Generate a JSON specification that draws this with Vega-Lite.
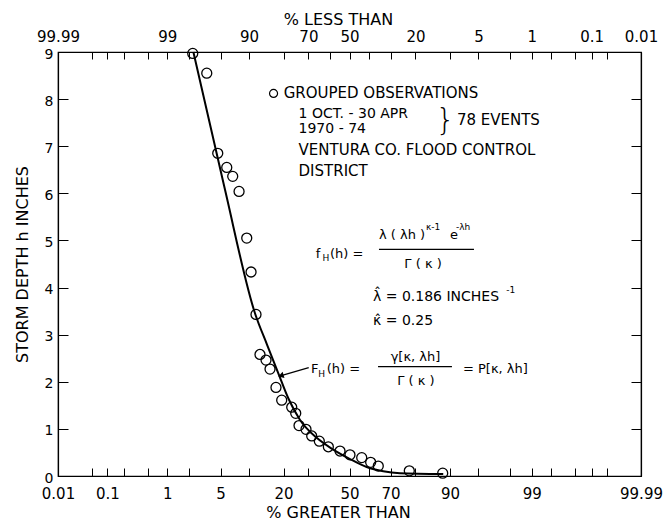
{
  "$schema": "https://vega.github.io/schema/vega-lite/v6.json",
  "autosize": "none",
  "padding": {"left": 58, "top": 52, "right": 27, "bottom": 53},
  "width": 583,
  "height": 424,
  "background": "white",
  "config": {
    "view": {"stroke": "black", "strokeWidth": 1.2},
    "font": "DejaVu Sans",
    "text": {"fill": "black", "color": "black"},
    "axis": {
      "grid": false,
      "domainColor": "black",
      "domainWidth": 1.2,
      "tickColor": "black",
      "tickWidth": 1,
      "labelColor": "black",
      "titleColor": "black",
      "labelFont": "DejaVu Sans",
      "titleFont": "DejaVu Sans",
      "titleFontWeight": "normal",
      "labelFlush": false,
      "labelOverlap": false,
      "labelBound": false
    }
  },
  "datasets": {
    "obs": [
      {"probit": -2.000, "h": 8.97}, {"probit": -1.821, "h": 8.55}, {"probit": -1.681, "h": 6.85},
      {"probit": -1.566, "h": 6.55}, {"probit": -1.490, "h": 6.36}, {"probit": -1.409, "h": 6.04},
      {"probit": -1.311, "h": 5.05}, {"probit": -1.256, "h": 4.33}, {"probit": -1.193, "h": 3.43},
      {"probit": -1.142, "h": 2.58}, {"probit": -1.065, "h": 2.46}, {"probit": -1.014, "h": 2.27},
      {"probit": -0.938, "h": 1.88}, {"probit": -0.865, "h": 1.61}, {"probit": -0.737, "h": 1.46},
      {"probit": -0.686, "h": 1.33}, {"probit": -0.644, "h": 1.07}, {"probit": -0.555, "h": 0.99},
      {"probit": -0.482, "h": 0.85}, {"probit": -0.385, "h": 0.74}, {"probit": -0.270, "h": 0.62},
      {"probit": -0.121, "h": 0.53}, {"probit": 0.006, "h": 0.45}, {"probit": 0.156, "h": 0.39},
      {"probit": 0.270, "h": 0.29}, {"probit": 0.367, "h": 0.21}, {"probit": 0.763, "h": 0.11},
      {"probit": 1.189, "h": 0.06}
    ],
    "fit": [
      {"probit": -1.992, "h": 9.0}, {"probit": -1.600, "h": 6.16}, {"probit": -1.205, "h": 3.45},
      {"probit": -1.05, "h": 2.78}, {"probit": -0.908, "h": 2.18}, {"probit": -0.781, "h": 1.65},
      {"probit": -0.631, "h": 1.19}, {"probit": -0.418, "h": 0.81}, {"probit": -0.207, "h": 0.56},
      {"probit": 0.006, "h": 0.36}, {"probit": 0.219, "h": 0.19}, {"probit": 0.431, "h": 0.10},
      {"probit": 0.644, "h": 0.06}, {"probit": 1.196, "h": 0.04}
    ],
    "legendsym": [{"probit": -0.969, "h": 8.12}],
    "notes15": [
      {"probit": -0.840, "h": 8.12, "label": "GROUPED OBSERVATIONS"},
      {"probit": 1.370, "h": 7.55, "label": "78 EVENTS"},
      {"probit": -0.650, "h": 6.92, "label": "VENTURA CO. FLOOD CONTROL"},
      {"probit": -0.650, "h": 6.48, "label": "DISTRICT"}
    ],
    "notes13": [
      {"probit": -0.650, "h": 7.69, "label": "1 OCT. - 30 APR"},
      {"probit": -0.650, "h": 7.37, "label": "1970 - 74"}
    ],
    "brace": [{"probit": 1.10, "h": 7.53, "label": "}"}],
    "formulaLeft": [
      {"probit": -0.430, "h": 4.72, "label": "f"},
      {"probit": -0.250, "h": 4.72, "label": "(h) ="},
      {"probit": 0.376, "h": 5.12, "label": "λ ( λh )"},
      {"probit": 1.282, "h": 5.12, "label": "e"},
      {"probit": -0.490, "h": 2.27, "label": "F"},
      {"probit": -0.290, "h": 2.27, "label": "(h) ="},
      {"probit": 1.448, "h": 2.27, "label": "= P[κ, λh]"}
    ],
    "params": [
      {"probit": 0.300, "h": 3.80, "label": "λ̂ = 0.186 INCHES"},
      {"probit": 0.300, "h": 3.30, "label": "κ̂ = 0.25"}
    ],
    "formulaCenter": [
      {"probit": 0.938, "h": 4.51, "label": "Γ ( κ )"},
      {"probit": 0.842, "h": 2.52, "label": "γ[κ, λh]"},
      {"probit": 0.848, "h": 2.02, "label": "Γ ( κ )"}
    ],
    "scripts": [
      {"probit": -0.345, "h": 4.62, "label": "H"},
      {"probit": 0.976, "h": 5.29, "label": "κ-1"},
      {"probit": 1.358, "h": 5.29, "label": "-λh"},
      {"probit": 2.000, "h": 3.95, "label": "-1"},
      {"probit": -0.400, "h": 2.17, "label": "H"}
    ],
    "bars": [
      {"probit": 0.376, "probit2": 1.588, "h": 4.81, "h2": 4.81},
      {"probit": 0.364, "probit2": 1.307, "h": 2.32, "h2": 2.32},
      {"probit": -0.520, "probit2": -0.860, "h": 2.30, "h2": 2.135}
    ],
    "arrowhead": [{"probit": -0.875, "h": 2.13}]
  },
  "resolve": {"axis": {"x": "independent", "y": "independent"}},
  "layer": [
    {
      "data": {"name": "obs"},
      "mark": {"type": "point", "shape": "circle", "filled": false, "color": "black", "size": 100, "strokeWidth": 1.3, "opacity": 1},
      "encoding": {
        "x": {
          "field": "probit", "type": "quantitative",
          "scale": {"domain": [-3.719, 3.719], "nice": false, "zero": false},
          "axis": {
            "orient": "bottom",
            "values": [-3.719, -3.291, -3.09, -2.878, -2.576, -2.326, -2.054, -1.645, -1.2816, -0.8416, -0.5244, -0.2533, 0, 0.2533, 0.5244, 0.8416, 1.2816, 1.645, 2.054, 2.326, 2.576, 2.878, 3.09, 3.291, 3.719],
            "labelExpr": "indexof([-3.719, -3.09, -2.326, -1.645, -0.8416, 0, 0.5244, 1.2816, 2.326, 3.719], datum.value) >= 0 ? ['0.01', '0.1', '1', '5', '20', '50', '70', '90', '99', '99.99'][indexof([-3.719, -3.09, -2.326, -1.645, -0.8416, 0, 0.5244, 1.2816, 2.326, 3.719], datum.value)] : ''",
            "tickSize": -8,
            "labelFontSize": 15,
            "labelPadding": 18,
            "title": "% GREATER THAN",
            "titleFontSize": 16,
            "titlePadding": 3,
            "titleX": 280
          }
        },
        "y": {
          "field": "h", "type": "quantitative",
          "scale": {"domain": [0, 9], "nice": false, "zero": false},
          "axis": {
            "orient": "left",
            "values": [0, 1, 2, 3, 4, 5, 6, 7, 8, 9],
            "tickSize": -10,
            "labelFontSize": 14,
            "labelPadding": 15,
            "labelOffset": 2,
            "title": "STORM DEPTH h INCHES",
            "titleFontSize": 16,
            "titlePadding": 14
          }
        }
      }
    },
    {
      "data": {"name": "fit"},
      "mark": {"type": "line", "color": "black", "strokeWidth": 2, "interpolate": "monotone"},
      "encoding": {
        "x": {
          "field": "probit", "type": "quantitative",
          "axis": {
            "orient": "top",
            "values": [-3.719, -3.291, -3.09, -2.878, -2.576, -2.326, -2.054, -1.645, -1.2816, -0.8416, -0.5244, -0.2533, 0, 0.2533, 0.5244, 0.8416, 1.2816, 1.645, 2.054, 2.326, 2.576, 2.878, 3.09, 3.291, 3.719],
            "labelExpr": "indexof([-3.719, -2.326, -1.2816, -0.5244, 0, 0.8416, 1.645, 2.326, 3.09, 3.719], datum.value) >= 0 ? ['99.99', '99', '90', '70', '50', '20', '5', '1', '0.1', '0.01'][indexof([-3.719, -2.326, -1.2816, -0.5244, 0, 0.8416, 1.645, 2.326, 3.09, 3.719], datum.value)] : ''",
            "tickSize": -7,
            "labelFontSize": 15,
            "labelPadding": 15,
            "title": "% LESS THAN",
            "titleFontSize": 16,
            "titlePadding": 2,
            "titleX": 280
          }
        },
        "y": {
          "field": "h", "type": "quantitative",
          "axis": {
            "orient": "right",
            "values": [0, 1, 2, 3, 4, 5, 6, 7, 8, 9],
            "tickSize": -10,
            "labels": false,
            "title": null
          }
        }
      }
    },
    {
      "data": {"name": "legendsym"},
      "mark": {"type": "point", "shape": "circle", "filled": false, "color": "black", "size": 64, "strokeWidth": 1.2, "opacity": 1},
      "encoding": {
        "x": {"field": "probit", "type": "quantitative", "axis": null},
        "y": {"field": "h", "type": "quantitative", "axis": null}
      }
    },
    {
      "data": {"name": "notes15"},
      "mark": {"type": "text", "align": "left", "baseline": "middle", "fontSize": 15, "fill": "black"},
      "encoding": {
        "x": {"field": "probit", "type": "quantitative", "axis": null},
        "y": {"field": "h", "type": "quantitative", "axis": null},
        "text": {"field": "label"}
      }
    },
    {
      "data": {"name": "notes13"},
      "mark": {"type": "text", "align": "left", "baseline": "middle", "fontSize": 14, "fill": "black"},
      "encoding": {
        "x": {"field": "probit", "type": "quantitative", "axis": null},
        "y": {"field": "h", "type": "quantitative", "axis": null},
        "text": {"field": "label"}
      }
    },
    {
      "data": {"name": "brace"},
      "mark": {"type": "text", "align": "left", "baseline": "middle", "fontSize": 30, "fontWeight": 200, "fill": "black"},
      "encoding": {
        "x": {"field": "probit", "type": "quantitative", "axis": null},
        "y": {"field": "h", "type": "quantitative", "axis": null},
        "text": {"field": "label"}
      }
    },
    {
      "data": {"name": "formulaLeft"},
      "mark": {"type": "text", "align": "left", "baseline": "middle", "fontSize": 13, "fill": "black"},
      "encoding": {
        "x": {"field": "probit", "type": "quantitative", "axis": null},
        "y": {"field": "h", "type": "quantitative", "axis": null},
        "text": {"field": "label"}
      }
    },
    {
      "data": {"name": "params"},
      "mark": {"type": "text", "align": "left", "baseline": "middle", "fontSize": 14, "fill": "black"},
      "encoding": {
        "x": {"field": "probit", "type": "quantitative", "axis": null},
        "y": {"field": "h", "type": "quantitative", "axis": null},
        "text": {"field": "label"}
      }
    },
    {
      "data": {"name": "formulaCenter"},
      "mark": {"type": "text", "align": "center", "baseline": "middle", "fontSize": 13, "fill": "black"},
      "encoding": {
        "x": {"field": "probit", "type": "quantitative", "axis": null},
        "y": {"field": "h", "type": "quantitative", "axis": null},
        "text": {"field": "label"}
      }
    },
    {
      "data": {"name": "scripts"},
      "mark": {"type": "text", "align": "left", "baseline": "middle", "fontSize": 9, "fill": "black"},
      "encoding": {
        "x": {"field": "probit", "type": "quantitative", "axis": null},
        "y": {"field": "h", "type": "quantitative", "axis": null},
        "text": {"field": "label"}
      }
    },
    {
      "data": {"name": "bars"},
      "mark": {"type": "rule", "color": "black", "strokeWidth": 1.2},
      "encoding": {
        "x": {"field": "probit", "type": "quantitative", "axis": null},
        "x2": {"field": "probit2"},
        "y": {"field": "h", "type": "quantitative", "axis": null},
        "y2": {"field": "h2"}
      }
    },
    {
      "data": {"name": "arrowhead"},
      "mark": {"type": "point", "shape": "triangle-left", "filled": true, "color": "black", "size": 40, "angle": -17, "opacity": 1},
      "encoding": {
        "x": {"field": "probit", "type": "quantitative", "axis": null},
        "y": {"field": "h", "type": "quantitative", "axis": null}
      }
    }
  ]
}
